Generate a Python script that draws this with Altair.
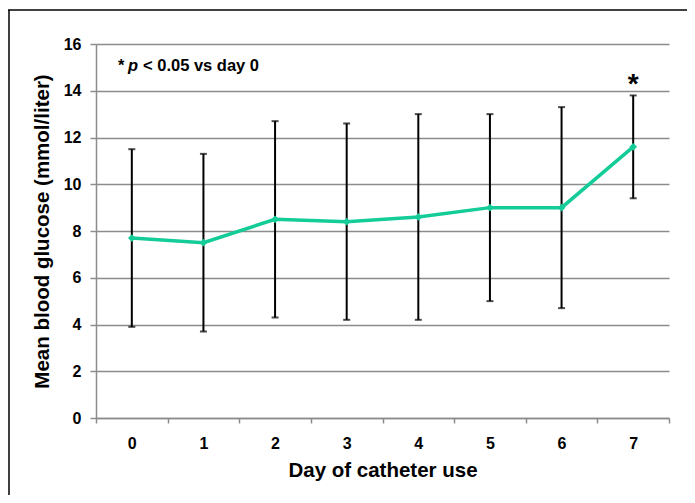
import altair as alt
import pandas as pd

days = ["0", "1", "2", "3", "4", "5", "6", "7"]
mean_glucose = [7.7, 7.5, 8.5, 8.4, 8.6, 9.0, 9.0, 11.6]
err_low = [3.9, 3.7, 4.3, 4.2, 4.2, 5.0, 4.7, 9.4]
err_high = [11.5, 11.3, 12.7, 12.6, 13.0, 13.0, 13.3, 13.8]
y_ticks = [0, 2, 4, 6, 8, 10, 12, 14, 16]
sig_day = "7"
sig_y = 14.25
note_y = 15.05

df = pd.DataFrame({"day": days, "mean": mean_glucose, "lo": err_low, "hi": err_high})

FONT = "Liberation Sans"
GREEN = "#14CC98"

x_enc = alt.X("day:O", sort=days,
              scale=alt.Scale(paddingInner=0, paddingOuter=0),
              axis=alt.Axis(title="Day of catheter use", labelAngle=0, grid=False,
                            tickBand="extent", tickSize=5, tickColor="#8c8c8c",
                            domainColor="#8c8c8c", domainWidth=1.5, tickWidth=1.5,
                            labelFont=FONT, labelFontSize=16, labelFontWeight="bold",
                            labelColor="black", labelPadding=12,
                            titleFont=FONT, titleFontSize=20.5, titleFontWeight="bold",
                            titleColor="black", titlePadding=9))
y_scale = alt.Scale(domain=[0, 16], nice=False)
y_axis = alt.Axis(title="Mean blood glucose (mmol/liter)", values=y_ticks,
                  grid=True, gridColor="#8c8c8c", gridWidth=1.5,
                  tickSize=6, tickColor="#8c8c8c", tickWidth=1.5,
                  domainColor="#8c8c8c", domainWidth=1.5,
                  labelFont=FONT, labelFontSize=16, labelFontWeight="bold",
                  labelColor="black", labelPadding=9,
                  titleFont=FONT, titleFontSize=20.5, titleFontWeight="bold",
                  titleColor="black", titlePadding=11)

base = alt.Chart(df)

rules = base.mark_rule(color="black", strokeWidth=2).encode(
    x=x_enc,
    y=alt.Y("lo:Q", scale=y_scale, axis=y_axis),
    y2="hi:Q")
cap_lo = base.mark_tick(color="black", thickness=2, size=7).encode(
    x=alt.X("day:O", sort=days), y=alt.Y("lo:Q"))
cap_hi = base.mark_tick(color="black", thickness=2, size=7).encode(
    x=alt.X("day:O", sort=days), y=alt.Y("hi:Q"))
line = base.mark_line(color=GREEN, strokeWidth=3.5).encode(
    x=alt.X("day:O", sort=days), y=alt.Y("mean:Q"))
pts = base.mark_point(shape="diamond", filled=True, color=GREEN, size=60, opacity=1).encode(
    x=alt.X("day:O", sort=days), y=alt.Y("mean:Q"))

star_df = pd.DataFrame({"day": [sig_day], "y": [sig_y], "t": ["*"]})
star = alt.Chart(star_df).mark_text(font=FONT, fontSize=28, fontWeight="bold", color="black",
                                    baseline="middle", align="center").encode(
    x=alt.X("day:O", sort=days), y=alt.Y("y:Q"), text="t:N")

note_df = pd.DataFrame({"y": [note_y]})
note_star = alt.Chart(note_df).mark_text(font=FONT, fontSize=16.5, fontWeight="bold",
                                         color="black", baseline="middle", align="left",
                                         text="*").encode(
    x=alt.value(22), y=alt.Y("y:Q"))
note_p = alt.Chart(note_df).mark_text(font=FONT, fontSize=16.5, fontWeight="bold",
                                      fontStyle="italic", color="black",
                                      baseline="middle", align="left", text="p").encode(
    x=alt.value(32), y=alt.Y("y:Q"))
note_rest = alt.Chart(note_df).mark_text(font=FONT, fontSize=16.5, fontWeight="bold",
                                         color="black", baseline="middle", align="left",
                                         text="< 0.05 vs day 0").encode(
    x=alt.value(47), y=alt.Y("y:Q"))

border_top = alt.Chart(note_df).mark_rule(color="black", strokeWidth=1.5).encode(
    x=alt.value(-88), x2=alt.value(600), y=alt.value(-34))
border_left = alt.Chart(note_df).mark_rule(color="black", strokeWidth=1.5).encode(
    x=alt.value(-87), y=alt.value(-34), y2=alt.value(460))

chart = alt.layer(rules, cap_lo, cap_hi, line, pts, star, note_star, note_p, note_rest,
                  border_top, border_left).properties(
    width=573, height=374,
    autosize=alt.AutoSizeParams(type="none"),
    padding={"left": 88, "top": 36, "right": 18, "bottom": 77},
    background="white"
).configure_view(stroke=None)

chart.save("out.html", embed_options={"renderer": "svg", "actions": False})
